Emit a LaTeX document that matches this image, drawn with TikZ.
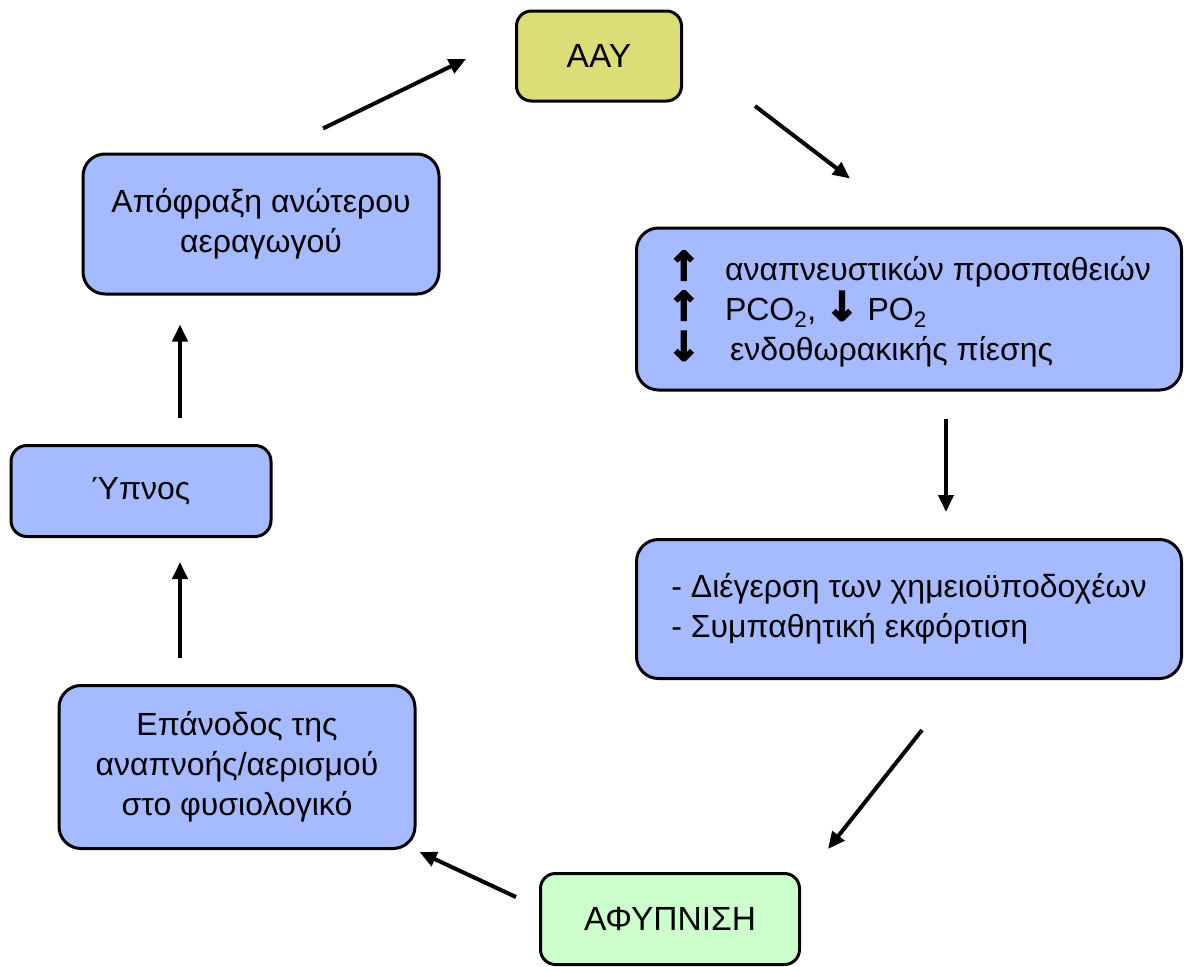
\documentclass[tikz,border=0pt]{standalone}
\usepackage{fontspec}
\setmainfont{Liberation Sans}
\newfontfamily\arrowfont[FakeBold=4]{DejaVu Sans}
\usepackage{xcolor}
\usepackage{tikz}
\usetikzlibrary{positioning,arrows.meta}
\definecolor{boxblue}{RGB}{166,186,255}
\definecolor{boxyellow}{RGB}{221,221,119}
\definecolor{boxgreen}{RGB}{204,255,204}
\newcommand{\arrup}{{\arrowfont\bfseries\fontsize{40}{40}\selectfont ↑}}
\newcommand{\arrdown}{{\arrowfont\bfseries\fontsize{40}{40}\selectfont ↓}}

\begin{document}
\begin{tikzpicture}[x=1pt,y=-1pt,
                box/.style={draw, line width=3pt, rounded corners=22pt, fill=boxblue, align=center, font=\fontsize{32}{40}\selectfont},
                tag/.style={draw, line width=3pt, rounded corners=15pt, font=\fontsize{33.5}{36}\selectfont},
                conn/.style={line width=4pt, -{Triangle[length=17pt,width=15pt]}}]
                \useasboundingbox (0,0) rectangle (1184,967);
                \node[tag, fill=boxyellow, minimum width=165pt, minimum height=90pt] (aay) at (599,56) {ΑΑΥ};
                \node[box, minimum width=356pt, minimum height=140pt] (apofraxi) at (261,224) {Απόφραξη ανώτερου\\αεραγωγού};
                \node[box, align=left, minimum width=545pt, minimum height=162pt] (prospatheies) at (909,309)
                    {\makebox[58pt][l]{\arrup}αναπνευστικών προσπαθειών\\
                     \makebox[58pt][l]{\arrup}PCO\textsubscript{2}, \arrdown{} PO\textsubscript{2}\\
                     \makebox[63pt][l]{\arrdown}ενδοθωρακικής πίεσης};
                \node[box, align=left, minimum width=545pt, minimum height=139pt] (diegersi) at (909,609)
                    {- Διέγερση των χημειοϋποδοχέων\\- Συμπαθητική εκφόρτιση};
                \node[tag, fill=boxgreen, minimum width=259pt, minimum height=91pt] (afypnisi) at (670,919) {ΑΦΥΠΝΙΣΗ};
                \node[box, minimum width=356pt, minimum height=163pt] (epanodos) at (237,767) {Επάνοδος της\\αναπνοής/αερισμού\\στο φυσιολογικό};
                \node[box, rounded corners=16pt, minimum width=260pt, minimum height=91pt] (ypnos) at (141,491) {Ύπνος};
                \draw[conn] ([xshift=62pt,yshift=24pt]apofraxi.north) -- ([xshift=-49pt,yshift=-3pt]aay.west);
                \draw[conn] ([xshift=72pt,yshift=-50pt]aay.east) -- ([xshift=-59pt,yshift=48pt]prospatheies.north);
                \draw[conn] ([xshift=37pt,yshift=-27pt]prospatheies.south) -- ([xshift=37pt,yshift=26pt]diegersi.north);
                \draw[conn] ([xshift=13pt,yshift=-50pt]diegersi.south) -- ([xshift=27pt,yshift=23pt]afypnisi.north east);
                \draw[conn] ([xshift=-23pt,yshift=22pt]afypnisi.west) -- ([xshift=3pt,yshift=-2pt]epanodos.south east);
                \draw[conn] ([xshift=-57pt,yshift=26pt]epanodos.north) -- ([xshift=39pt,yshift=-24pt]ypnos.south);
                \draw[conn] ([xshift=39pt,yshift=26pt]ypnos.north) -- ([xshift=-81pt,yshift=-29pt]apofraxi.south);
            \end{tikzpicture}
\end{document}
